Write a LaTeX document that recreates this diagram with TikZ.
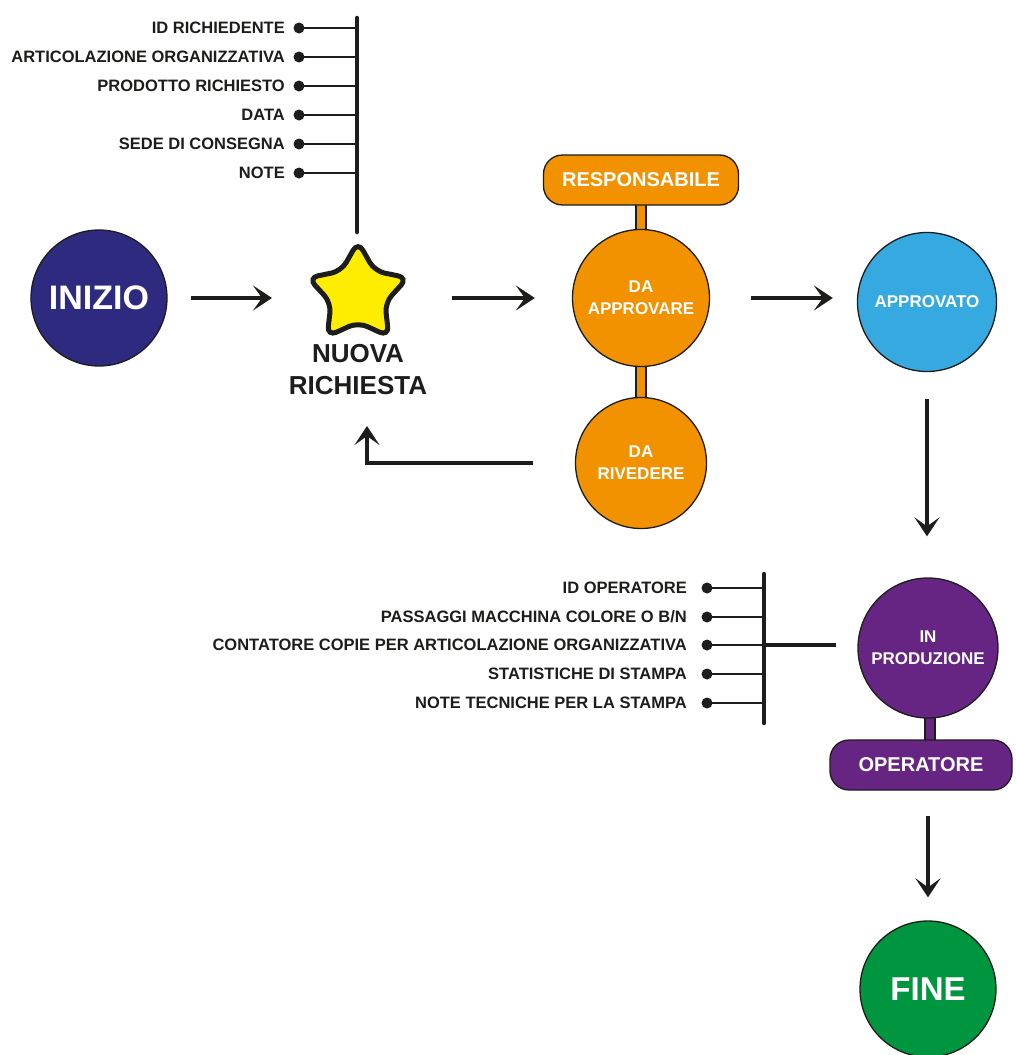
\documentclass[tikz,border=0pt]{standalone}
\usepackage{fontspec}
\setmainfont{Liberation Sans}
\usetikzlibrary{arrows.meta,shapes.geometric,backgrounds,calc}
\definecolor{cnavy}{HTML}{2E2A7F}
\definecolor{corange}{HTML}{F39200}
\definecolor{cblue}{HTML}{36A9E1}
\definecolor{cpurple}{HTML}{662483}
\definecolor{cgreen}{HTML}{009640}
\definecolor{cyellow}{HTML}{FFED00}
\definecolor{cink}{HTML}{1D1D1B}
\begin{document}
\begin{tikzpicture}[x=1pt,y=-1pt,
  state/.style={circle,draw=cink,line width=1.3pt,inner sep=0pt,minimum size=#1,text=white,font=\bfseries,align=center},
  pill/.style={rounded corners=19pt,draw=cink,line width=1.3pt,inner sep=0pt,minimum height=50pt,text=white,font=\bfseries\fontsize{20}{22}\selectfont},
  stem/.style={draw=cink,line width=1.3pt,inner sep=0pt,minimum width=10pt},
  arr/.style={draw=cink,line width=4.5pt,-{Stealth[length=19pt,width=25pt,inset=9pt]}},
  item/.style={anchor=east,text=cink,font=\bfseries\fontsize{16.5}{18}\selectfont,inner sep=0pt},
  dot/.style={circle,fill=cink,inner sep=0pt,minimum size=11pt},
  thin/.style={draw=cink,line width=1.5pt},
  bar/.style={draw=cink,line width=4.5pt,line cap=round}]
\useasboundingbox (0,0) rectangle (1015,1055);

% main states
\node[state=136pt,fill=cnavy,font=\bfseries\fontsize{34}{36}\selectfont] (inizio) at (99,298) {INIZIO};
\node[star,star points=5,star point ratio=1.85,minimum size=104pt,inner sep=0pt] (star) at (358,294) {};
\draw[draw=cink,fill=cyellow,line width=5pt,rounded corners=10pt]
  (star.outer point 1) -- (star.inner point 1) -- (star.outer point 2) -- (star.inner point 2) --
  (star.outer point 3) -- (star.inner point 3) -- (star.outer point 4) -- (star.inner point 4) --
  (star.outer point 5) -- (star.inner point 5) -- cycle;
\node[text=cink,font=\bfseries\fontsize{26}{32}\selectfont,align=center] (nuova) at (358,370) {NUOVA\\RICHIESTA};
\node[state=137pt,fill=corange,font=\bfseries\fontsize{17}{22}\selectfont] (approvare) at (641,298) {DA\\APPROVARE};
\node[state=131pt,fill=corange,font=\bfseries\fontsize{17}{22}\selectfont] (rivedere) at (641,463) {DA\\RIVEDERE};
\node[pill,fill=corange,minimum width=195pt] (resp) at (641,180) {RESPONSABILE};
\node[state=139pt,fill=cblue,font=\bfseries\fontsize{17}{22}\selectfont] (approvato) at (927,302) {APPROVATO};
\node[state=140pt,fill=cpurple,font=\bfseries\fontsize{17}{22}\selectfont] (produzione) at (928,648) {IN\\PRODUZIONE};
\node[pill,fill=cpurple,minimum width=182pt] (operatore) at (921,765) {OPERATORE};
\node[state=136pt,fill=cgreen,font=\bfseries\fontsize{33}{36}\selectfont] (fine) at (928,989) {FINE};

% stems (behind)
\begin{scope}[on background layer]
  \fill[white] (0,0) rectangle (1015,1055);
  \node[stem,fill=corange,minimum height=32pt] (stem1) at (641,216) {};
  \node[stem,fill=corange,minimum height=40pt] (stem2) at (641,382) {};
  \node[stem,fill=cpurple,minimum height=30pt] (stem3) at (930,729) {};
\end{scope}

% flow arrows
\draw[arr,shorten <=23pt,shorten >=86pt] (inizio.east) -- (inizio.east -| star.center);
\draw[arr,shorten <=94pt,shorten >=37pt] (star.center |- approvare.west) -- (approvare.west);
\draw[arr,shorten <=41pt,shorten >=24pt] (approvare.east) -- (approvare.east -| approvato.west);
\draw[arr,shorten <=27pt,shorten >=41pt] (approvato.south) -- (approvato.south |- produzione.north);
\draw[arr,shorten <=25pt,shorten >=23pt] (operatore.south -| fine.north) -- (fine.north);
\coordinate (fbtip) at (367,426);
\draw[arr,line join=miter,shorten <=42pt] (rivedere.west) -- (rivedere.west -| fbtip) -- (fbtip);

% top attribute list
\coordinate (bartop1) at (357,18);
\coordinate (barbot1) at (357,232);
\draw[bar] (bartop1) -- (barbot1);
\foreach \i/\y/\t in {1/28/{ID RICHIEDENTE},2/57/{ARTICOLAZIONE ORGANIZZATIVA},3/86/{PRODOTTO RICHIESTO},4/115/{DATA},5/144/{SEDE DI CONSEGNA},6/173/{NOTE}}{
  \node[dot] (td\i) at (299,\y) {};
  \node[item] (tl\i) at (285,\y) {\t};
  \draw[thin] (td\i.center) -- (td\i.center -| bartop1);
}

% bottom attribute list
\coordinate (bartop2) at (764,574);
\coordinate (barbot2) at (764,723);
\draw[bar] (bartop2) -- (barbot2);
\foreach \i/\y/\t in {1/588/{ID OPERATORE},2/617/{PASSAGGI MACCHINA COLORE O B/N},3/645/{CONTATORE COPIE PER ARTICOLAZIONE ORGANIZZATIVA},4/674/{STATISTICHE DI STAMPA},5/703/{NOTE TECNICHE PER LA STAMPA}}{
  \node[dot] (bd\i) at (707,\y) {};
  \node[item] (bl\i) at (687,\y) {\t};
  \draw[thin] (bd\i.center) -- (bd\i.center -| bartop2);
}
\draw[draw=cink,line width=4.5pt,shorten >=21pt] (bd3.center -| bartop2) -- (bd3.center -| produzione.west);
\end{tikzpicture}
\end{document}
